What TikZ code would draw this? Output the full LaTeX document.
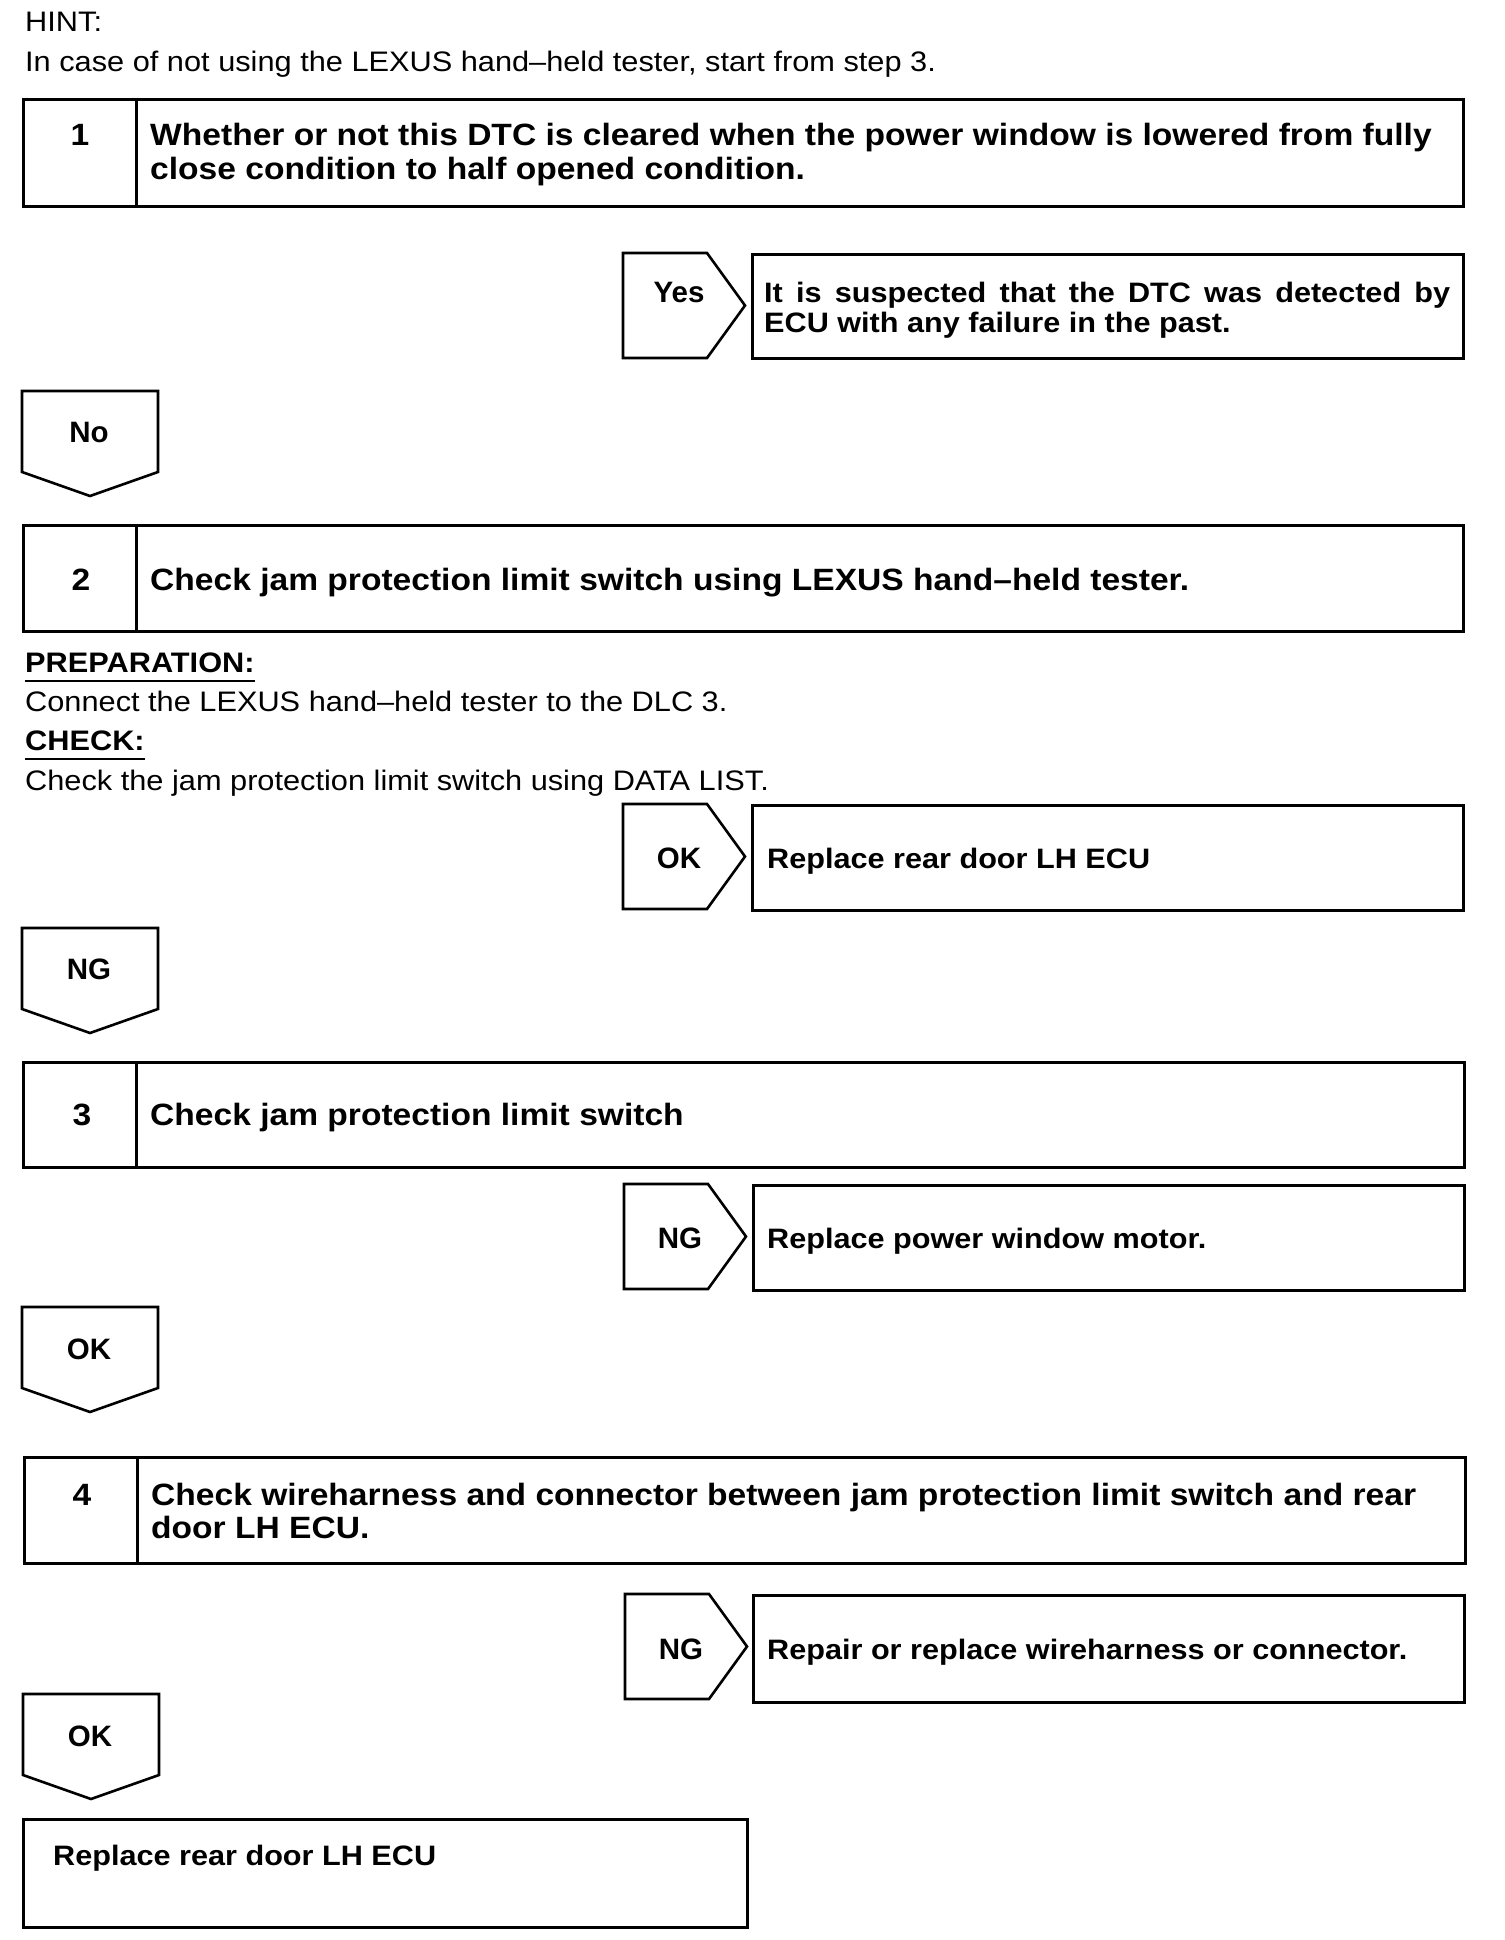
\documentclass[tikz,border=0pt]{standalone}
\usepackage{fontspec}
\setmainfont{Liberation Sans}[FakeStretch=1.09]
\newfontfamily\lblfont{Liberation Sans}
\begin{document}
\begin{tikzpicture}[x=1pt,y=-1pt,
  framebox/.style={draw, line width=3pt, inner sep=0pt, anchor=north west},
  divline/.style={line width=3pt},
  shapeline/.style={draw, line width=2.6pt, line join=miter},
  bt/.style={font=\bfseries\fontsize{30.8}{33}\selectfont, inner sep=0pt, anchor=base west},
  rt/.style={font=\bfseries\fontsize{28.1}{30}\selectfont, inner sep=0pt, anchor=base west},
  nt/.style={font=\fontsize{28.2}{32}\selectfont, inner sep=0pt, anchor=base west},
  nbt/.style={font=\bfseries\fontsize{28.2}{32}\selectfont, inner sep=0pt, anchor=base west},
  num/.style={font=\bfseries\fontsize{30.8}{33}\selectfont, inner sep=0pt, anchor=base},
  lbl/.style={font=\lblfont\bfseries\fontsize{29.5}{30}\selectfont, inner sep=0pt, anchor=base},
  ul/.style={line width=2pt}
]
\fill[white] (0,0) rectangle (1504,1940);
\useasboundingbox (0,0) rectangle (1504,1940);

\newcommand\RChev[2]{\path[shapeline] (#1,#2) -- ++(84,0) -- ++(38,52.5) -- ++(-38,52.5) -- ++(-84,0) -- cycle;}
\newcommand\DPent[2]{\path[shapeline] (#1,#2) -- ++(136,0) -- ++(0,81) -- ++(-68,24) -- ++(-68,-24) -- cycle;}

% header
\node[nt] (hint) at (25,32) {HINT:};
\node[nt] (hint2) at (25,72) {In case of not using the LEXUS hand--held tester, start from step 3.};

% step 1
\node[framebox, minimum width=1440pt, minimum height=107pt] (b1) at (22,98) {};
\draw[divline] ([xshift=114pt]b1.north west) -- ([xshift=114pt]b1.south west);
\node[num] (n1) at (80,146) {1};
\node[bt] (t1a) at (150,146) {Whether or not this DTC is cleared when the power window is lowered from fully};
\node[bt] (t1b) at (150,179) {close condition to half opened condition.};

% Yes
\RChev{623}{253}
\node[lbl] (yes) at (679,302) {Yes};
\node[framebox, minimum width=711pt, minimum height=104pt] (r1) at (751,253) {};
\node[rt] (r1a) at (764,302) {\makebox[686pt][s]{It is suspected that the DTC was detected by}};
\node[rt] (r1b) at (764,332) {ECU with any failure in the past.};

% No
\DPent{22}{391}
\node[lbl] (no) at (89,442) {No};

% step 2
\node[framebox, minimum width=1440pt, minimum height=106pt] (b2) at (22,524) {};
\draw[divline] ([xshift=114pt]b2.north west) -- ([xshift=114pt]b2.south west);
\node[num] (n2) at (81,590) {2};
\node[bt] (t2) at (150,590) {Check jam protection limit switch using LEXUS hand--held tester.};

\node[nbt] (prep) at (25,672) {PREPARATION:};
\draw[ul] ([yshift=-9pt]prep.base west) -- ([yshift=-9pt]prep.base east);
\node[nt] (prep2) at (25,711) {Connect the LEXUS hand--held tester to the DLC 3.};
\node[nbt] (chk) at (25,750) {CHECK:};
\draw[ul] ([yshift=-9pt]chk.base west) -- ([yshift=-9pt]chk.base east);
\node[nt] (chk2) at (25,790) {Check the jam protection limit switch using DATA LIST.};

% OK -> replace ECU
\RChev{623}{804}
\node[lbl] (ok1) at (679,868) {OK};
\node[framebox, minimum width=711pt, minimum height=105pt] (r2) at (751,804) {};
\node[rt] (r2a) at (767,868) {Replace rear door LH ECU};

% NG
\DPent{22}{928}
\node[lbl] (ng1) at (89,979) {NG};

% step 3
\node[framebox, minimum width=1441pt, minimum height=105pt] (b3) at (22,1061) {};
\draw[divline] ([xshift=114pt]b3.north west) -- ([xshift=114pt]b3.south west);
\node[num] (n3) at (82,1125) {3};
\node[bt] (t3) at (150,1125) {Check jam protection limit switch};

% NG -> motor
\RChev{624}{1184}
\node[lbl] (ng2) at (680,1248) {NG};
\node[framebox, minimum width=711pt, minimum height=105pt] (r3) at (752,1184) {};
\node[rt] (r3a) at (767,1248) {Replace power window motor.};

% OK
\DPent{22}{1307}
\node[lbl] (ok2) at (89,1359) {OK};

% step 4
\node[framebox, minimum width=1441pt, minimum height=106pt] (b4) at (23,1456) {};
\draw[divline] ([xshift=114pt]b4.north west) -- ([xshift=114pt]b4.south west);
\node[num] (n4) at (82,1505) {4};
\node[bt] (t4a) at (151,1505) {Check wireharness and connector between jam protection limit switch and rear};
\node[bt] (t4b) at (151,1538) {door LH ECU.};

% NG -> repair
\RChev{625}{1594}
\node[lbl] (ng3) at (681,1659) {NG};
\node[framebox, minimum width=711pt, minimum height=107pt] (r4) at (752,1594) {};
\node[rt] (r4a) at (767,1659) {Repair or replace wireharness or connector.};

% OK
\DPent{23}{1694}
\node[lbl] (ok3) at (90,1746) {OK};

% final
\node[framebox, minimum width=724pt, minimum height=108pt] (fin) at (22,1818) {};
\node[rt] (fina) at (53,1865) {Replace rear door LH ECU};
\end{tikzpicture}
\end{document}
